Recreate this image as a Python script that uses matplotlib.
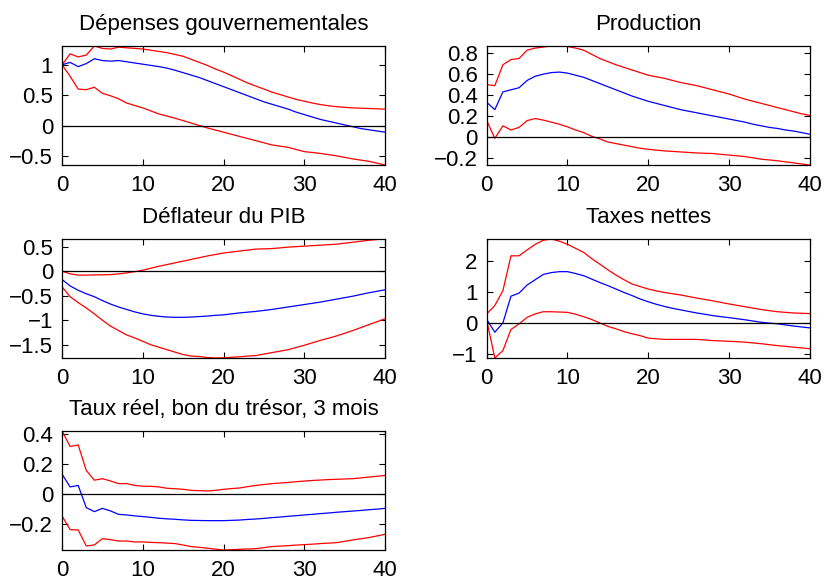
import numpy as np
import matplotlib
matplotlib.use("Agg")
import matplotlib.pyplot as plt
from matplotlib.ticker import FuncFormatter

plt.rcParams["font.family"] = ["Liberation Sans", "DejaVu Sans"]

horizon = np.arange(41)

# Dépenses gouvernementales
gov_mid = [1.00, 1.04, 0.97, 1.02, 1.10, 1.07, 1.06, 1.07, 1.05, 1.03, 1.01, 0.99, 0.97, 0.945, 0.91,
           0.87, 0.83, 0.79, 0.74, 0.69, 0.64, 0.59, 0.54, 0.49, 0.44, 0.39, 0.35, 0.31, 0.27, 0.22,
           0.18, 0.14, 0.10, 0.07, 0.04, 0.01, -0.02, -0.05, -0.07, -0.09, -0.11]
gov_up = [1.00, 1.18, 1.13, 1.16, 1.31, 1.27, 1.26, 1.29, 1.28, 1.27, 1.26, 1.24, 1.22, 1.20, 1.17,
          1.14, 1.09, 1.04, 0.99, 0.93, 0.88, 0.82, 0.76, 0.70, 0.65, 0.60, 0.55, 0.51, 0.47, 0.43,
          0.40, 0.37, 0.345, 0.325, 0.31, 0.30, 0.29, 0.285, 0.28, 0.275, 0.27]
gov_lo = [1.00, 0.81, 0.60, 0.59, 0.63, 0.53, 0.49, 0.44, 0.37, 0.33, 0.29, 0.24, 0.19, 0.155, 0.12,
          0.08, 0.04, 0.0, -0.04, -0.075, -0.11, -0.145, -0.18, -0.215, -0.25, -0.285, -0.32, -0.34,
          -0.36, -0.395, -0.43, -0.445, -0.46, -0.48, -0.50, -0.525, -0.55, -0.57, -0.59, -0.62, -0.65]

# Production
prod_mid = [0.33, 0.26, 0.43, 0.45, 0.47, 0.54, 0.58, 0.60, 0.615, 0.62, 0.61, 0.59, 0.57, 0.54, 0.51,
            0.48, 0.45, 0.42, 0.39, 0.365, 0.34, 0.32, 0.30, 0.28, 0.26, 0.245, 0.23, 0.215, 0.20,
            0.185, 0.17, 0.155, 0.14, 0.12, 0.105, 0.09, 0.08, 0.065, 0.055, 0.04, 0.025]
prod_up = [0.50, 0.49, 0.69, 0.74, 0.75, 0.83, 0.85, 0.86, 0.87, 0.87, 0.865, 0.85, 0.83, 0.79, 0.75,
           0.72, 0.69, 0.665, 0.64, 0.615, 0.59, 0.575, 0.56, 0.54, 0.52, 0.505, 0.49, 0.47, 0.45,
           0.43, 0.41, 0.385, 0.36, 0.34, 0.32, 0.30, 0.28, 0.26, 0.24, 0.22, 0.205]
prod_lo = [0.155, -0.015, 0.105, 0.065, 0.09, 0.155, 0.175, 0.16, 0.14, 0.12, 0.095, 0.065, 0.04,
           0.005, -0.02, -0.05, -0.065, -0.08, -0.095, -0.11, -0.12, -0.128, -0.135, -0.14, -0.145,
           -0.15, -0.155, -0.158, -0.16, -0.168, -0.175, -0.182, -0.19, -0.202, -0.215, -0.222,
           -0.23, -0.24, -0.25, -0.26, -0.27]

# Déflateur du PIB
defl_mid = [-0.17, -0.30, -0.39, -0.46, -0.52, -0.60, -0.67, -0.73, -0.78, -0.83, -0.87, -0.90, -0.92,
            -0.935, -0.94, -0.94, -0.935, -0.925, -0.915, -0.90, -0.89, -0.87, -0.85, -0.835, -0.82,
            -0.80, -0.78, -0.755, -0.73, -0.705, -0.68, -0.655, -0.63, -0.60, -0.57, -0.54, -0.51,
            -0.475, -0.44, -0.41, -0.38]
defl_up = [0.0, -0.055, -0.08, -0.08, -0.075, -0.075, -0.07, -0.055, -0.035, -0.01, 0.02, 0.06, 0.10,
           0.135, 0.17, 0.205, 0.24, 0.275, 0.31, 0.34, 0.37, 0.39, 0.41, 0.43, 0.45, 0.455, 0.46,
           0.475, 0.49, 0.50, 0.51, 0.52, 0.53, 0.54, 0.55, 0.57, 0.59, 0.61, 0.63, 0.645, 0.655]
defl_lo = [-0.32, -0.52, -0.64, -0.75, -0.87, -1.00, -1.12, -1.21, -1.30, -1.36, -1.43, -1.50, -1.55,
           -1.60, -1.65, -1.70, -1.73, -1.74, -1.76, -1.77, -1.765, -1.755, -1.745, -1.73, -1.72,
           -1.69, -1.66, -1.63, -1.60, -1.555, -1.51, -1.46, -1.41, -1.365, -1.32, -1.265, -1.21,
           -1.15, -1.09, -1.03, -0.97]

# Taxes nettes
tax_mid = [0.11, -0.30, 0.0, 0.86, 0.96, 1.22, 1.39, 1.56, 1.62, 1.65, 1.65, 1.59, 1.52, 1.41, 1.30,
           1.20, 1.09, 0.98, 0.88, 0.77, 0.68, 0.60, 0.53, 0.47, 0.42, 0.37, 0.32, 0.28, 0.235, 0.20,
           0.17, 0.135, 0.10, 0.06, 0.02, -0.005, -0.03, -0.065, -0.10, -0.13, -0.16]
tax_up = [0.29, 0.56, 1.04, 2.16, 2.16, 2.35, 2.53, 2.66, 2.70, 2.63, 2.53, 2.40, 2.27, 2.07, 1.89,
          1.71, 1.54, 1.39, 1.25, 1.17, 1.09, 1.03, 0.98, 0.94, 0.90, 0.85, 0.80, 0.755, 0.71, 0.66,
          0.61, 0.565, 0.52, 0.475, 0.43, 0.395, 0.36, 0.34, 0.32, 0.31, 0.30]
tax_lo = [0.08, -1.13, -0.89, -0.21, -0.03, 0.18, 0.29, 0.36, 0.36, 0.35, 0.34, 0.28, 0.20, 0.11, 0.0,
          -0.11, -0.19, -0.28, -0.35, -0.41, -0.49, -0.51, -0.53, -0.53, -0.53, -0.53, -0.53, -0.55,
          -0.57, -0.58, -0.59, -0.605, -0.62, -0.645, -0.67, -0.70, -0.73, -0.755, -0.78, -0.805, -0.83]

# Taux réel, bon du trésor, 3 mois
rate_mid = [0.13, 0.045, 0.055, -0.093, -0.12, -0.098, -0.115, -0.138, -0.142, -0.148, -0.153, -0.158,
            -0.164, -0.168, -0.171, -0.175, -0.178, -0.179, -0.18, -0.18, -0.18, -0.178, -0.176,
            -0.172, -0.169, -0.165, -0.16, -0.156, -0.151, -0.147, -0.142, -0.138, -0.133, -0.129,
            -0.124, -0.12, -0.116, -0.112, -0.107, -0.103, -0.098]
rate_up = [0.418, 0.315, 0.325, 0.155, 0.09, 0.10, 0.085, 0.067, 0.067, 0.055, 0.05, 0.049, 0.045,
           0.036, 0.033, 0.029, 0.022, 0.02, 0.018, 0.022, 0.029, 0.034, 0.038, 0.047, 0.055, 0.061,
           0.067, 0.071, 0.075, 0.08, 0.084, 0.088, 0.091, 0.094, 0.096, 0.098, 0.10, 0.105, 0.111,
           0.116, 0.122]
rate_lo = [-0.149, -0.24, -0.242, -0.349, -0.342, -0.30, -0.307, -0.316, -0.316, -0.322, -0.322,
           -0.325, -0.327, -0.33, -0.333, -0.343, -0.353, -0.358, -0.364, -0.37, -0.376, -0.374,
           -0.371, -0.369, -0.367, -0.36, -0.353, -0.35, -0.347, -0.343, -0.34, -0.337, -0.333,
           -0.33, -0.327, -0.318, -0.309, -0.301, -0.293, -0.282, -0.271]

titles = ["Dépenses gouvernementales", "Production", "Déflateur du PIB", "Taxes nettes",
          "Taux réel, bon du trésor, 3 mois"]
mids = [gov_mid, prod_mid, defl_mid, tax_mid, rate_mid]
ups = [gov_up, prod_up, defl_up, tax_up, rate_up]
los = [gov_lo, prod_lo, defl_lo, tax_lo, rate_lo]
yticks = [[-0.5, 0, 0.5, 1], [-0.2, 0, 0.2, 0.4, 0.6, 0.8], [-1.5, -1, -0.5, 0, 0.5],
          [-1, 0, 1, 2], [-0.2, 0, 0.2, 0.4]]

fig = plt.figure(figsize=(8.25, 5.85), dpi=100)

col_left = [0.0752, 0.590]
row_bottom = [0.718, 0.388, 0.0598]
w, h = 0.3915, 0.2034

fmt = FuncFormatter(lambda v, p: f"{v:g}".replace("-", "\u2212"))

for i in range(5):
    r, c = divmod(i, 2)
    ax = fig.add_axes([col_left[c], row_bottom[r], w, h])
    ax.plot(horizon, ups[i], color=(1, 0, 0), lw=0.9)
    ax.plot(horizon, los[i], color=(1, 0, 0), lw=0.9)
    ax.plot(horizon, mids[i], color=(0, 0, 1), lw=0.9)
    ax.axhline(0, color="black", lw=0.9)
    ax.set_xlim(0, 40)
    lo = min(los[i] + mids[i] + ups[i])
    hi = max(los[i] + mids[i] + ups[i])
    ax.set_ylim(lo, hi)
    ax.set_xticks([0, 10, 20, 30, 40])
    ax.set_yticks(yticks[i])
    ax.yaxis.set_major_formatter(fmt)
    ax.tick_params(direction="in", top=True, right=True, length=4, width=0.8,
                   labelsize=16, pad=6.5)
    ax.tick_params(axis="x", pad=7.5)
    for s in ax.spines.values():
        s.set_linewidth(0.9)
    ax.set_title(titles[i], fontsize=16, pad=11.5)

fig.savefig("out.png", dpi=100)
